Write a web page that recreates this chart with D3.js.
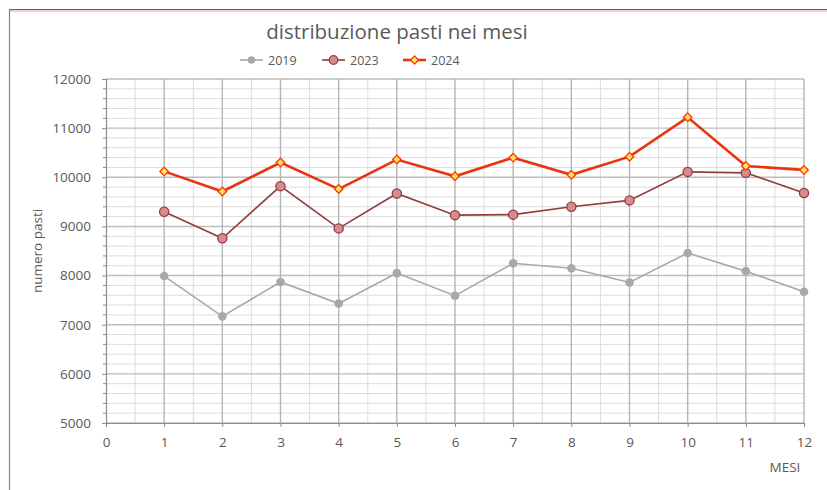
<!DOCTYPE html>
<html><head><meta charset="utf-8">
<script src="https://cdn.jsdelivr.net/npm/d3@7"></script>
<style>
body{margin:0;background:#fff;}
svg text{font-family:"Open Sans","Noto Sans",sans-serif;fill:#595959;}
</style></head>
<body><svg id="c" width="827" height="490"></svg>
<script>
const months = [1,2,3,4,5,6,7,8,9,10,11,12];
const series2019 = [7990,7170,7870,7430,8050,7590,8250,8150,7860,8460,8090,7670];
const series2023 = [9300,8760,9820,8960,9670,9230,9240,9400,9530,10110,10090,9680];
const series2024 = [10120,9710,10300,9760,10360,10020,10400,10050,10420,11220,10230,10150];
const seriesNames = ["2019","2023","2024"];
const yTicks = [5000,6000,7000,8000,9000,10000,11000,12000];
const xTicks = [0,1,2,3,4,5,6,7,8,9,10,11,12];

const svg = d3.select("#c");
svg.append("line").attr("x1",9).attr("x2",827).attr("y1",9.5).attr("y2",9.5).attr("stroke","#8a5050").attr("stroke-width",1.2);
svg.append("line").attr("x1",9).attr("x2",827).attr("y1",11).attr("y2",11).attr("stroke","#e8a0a0").attr("stroke-width",1.2);
svg.append("line").attr("x1",9.5).attr("x2",9.5).attr("y1",9).attr("y2",490).attr("stroke","#b07070").attr("stroke-width",1.2);

const x = d3.scaleLinear().domain([0,12]).range([106,804]);
const y = d3.scaleLinear().domain([5000,12000]).range([423,79]);

const g = svg.append("g");
d3.range(5000,12001,200).filter(v=>v%1000!==0).forEach(v=>{
  g.append("line").attr("x1",x(0)).attr("x2",x(12)).attr("y1",y(v)).attr("y2",y(v)).attr("stroke","#dcdcdc").attr("stroke-width",1);
});
d3.range(0.5,12,1).forEach(v=>{
  g.append("line").attr("x1",x(v)).attr("x2",x(v)).attr("y1",y(5000)).attr("y2",y(12000)).attr("stroke","#dcdcdc").attr("stroke-width",1);
});
yTicks.forEach(v=>{
  g.append("line").attr("x1",x(0)).attr("x2",x(12)).attr("y1",y(v)).attr("y2",y(v)).attr("stroke","#bdbdbd").attr("stroke-width",1.4);
});
xTicks.slice(1).forEach(v=>{
  g.append("line").attr("x1",x(v)).attr("x2",x(v)).attr("y1",y(5000)).attr("y2",y(12000)).attr("stroke","#b5b5b5").attr("stroke-width",1.4);
});

const yAxis = svg.append("g").attr("transform",`translate(${x(0)},0)`)
  .call(d3.axisLeft(y).tickValues(yTicks).tickFormat(d3.format("d")).tickSize(4).tickPadding(11));
yAxis.select(".domain").attr("stroke","#8c8c8c").attr("stroke-width",1.2);
yAxis.selectAll(".tick line").attr("stroke","#8c8c8c");
yAxis.selectAll("text").style("font-size","13.5px").attr("fill","#595959");
d3.range(5000,12001,200).filter(v=>v%1000!==0).forEach(v=>{
  yAxis.append("line").attr("x1",-3).attr("x2",0).attr("y1",y(v)).attr("y2",y(v)).attr("stroke","#8c8c8c");
});
const xAxis = svg.append("g").attr("transform",`translate(0,${y(5000)})`)
  .call(d3.axisBottom(x).tickValues(xTicks).tickFormat(d3.format("d")).tickSize(4).tickPadding(10));
xAxis.select(".domain").attr("stroke","#8c8c8c").attr("stroke-width",1.2);
xAxis.selectAll(".tick line").attr("stroke","#8c8c8c");
xAxis.selectAll("text").style("font-size","13.5px").attr("fill","#595959");

svg.append("text").attr("x",397).attr("y",39).attr("text-anchor","middle").style("font-size","20.5px").text("distribuzione pasti nei mesi");
svg.append("text").attr("transform","translate(42,251) rotate(-90)").attr("text-anchor","middle").style("font-size","13.5px").text("numero pasti");
svg.append("text").attr("x",785).attr("y",472).attr("text-anchor","middle").style("font-size","13.5px").text("MESI");

const line = d3.line().x((d,i)=>x(months[i])).y(d=>y(d));
svg.append("path").datum(series2019).attr("d",line).attr("fill","none").attr("stroke","#a8a8a8").attr("stroke-width",1.6);
svg.selectAll(".p19").data(series2019).enter().append("circle").attr("cx",(d,i)=>x(months[i])).attr("cy",d=>y(d)).attr("r",4.3).attr("fill","#a8a8a8");
svg.append("path").datum(series2023).attr("d",line).attr("fill","none").attr("stroke","#913d3d").attr("stroke-width",1.6);
svg.selectAll(".p23").data(series2023).enter().append("circle").attr("cx",(d,i)=>x(months[i])).attr("cy",d=>y(d)).attr("r",4.6).attr("fill","#d98a90").attr("stroke","#913d3d").attr("stroke-width",1.3);
svg.append("path").datum(series2024).attr("d",line).attr("fill","none").attr("stroke","#e8350f").attr("stroke-width",2.6);
const sq = d3.symbol().type(d3.symbolSquare).size(36);
svg.selectAll(".p24").data(series2024).enter().append("path").attr("d",sq)
  .attr("transform",(d,i)=>`translate(${x(months[i])},${y(d)}) rotate(45)`).attr("fill","#ffe36a").attr("stroke","#ff3d00").attr("stroke-width",1.4);

const leg = [
  {name:seriesNames[0], x0:240, color:"#a8a8a8", fill:"#a8a8a8", w:1.6, type:"c"},
  {name:seriesNames[1], x0:322, color:"#913d3d", fill:"#d98a90", w:1.6, type:"c"},
  {name:seriesNames[2], x0:403, color:"#e8350f", fill:"#ffe36a", w:2.6, type:"d"}
];
const ly = 60;
leg.forEach(l=>{
  svg.append("line").attr("x1",l.x0).attr("x2",l.x0+23).attr("y1",ly).attr("y2",ly).attr("stroke",l.color).attr("stroke-width",l.w);
  if(l.type==="c"){
    svg.append("circle").attr("cx",l.x0+11.5).attr("cy",ly).attr("r",l.name==="2019"?3.8:4.3).attr("fill",l.fill).attr("stroke",l.name==="2019"?"none":l.color).attr("stroke-width",1.2);
  } else {
    svg.append("path").attr("d",d3.symbol().type(d3.symbolSquare).size(32)).attr("transform",`translate(${l.x0+11.5},${ly}) rotate(45)`).attr("fill",l.fill).attr("stroke","#ff3d00").attr("stroke-width",1.3);
  }
  svg.append("text").attr("x",l.x0+28).attr("y",ly+4.5).style("font-size","12.5px").text(l.name);
});
</script></body></html>
